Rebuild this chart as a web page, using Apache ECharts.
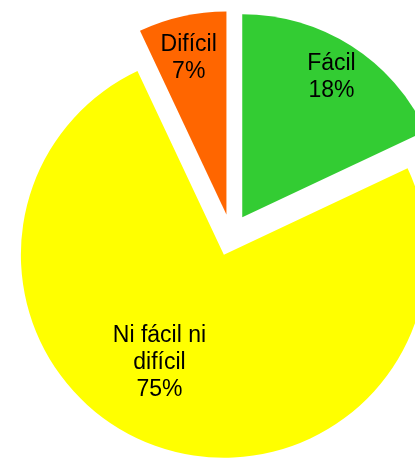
<!DOCTYPE html>
<html>
<head>
<meta charset="utf-8">
<style>
  html, body { margin: 0; padding: 0; background: #fff; }
  #chart { width: 415px; height: 458px; }
</style>
<script src="https://cdn.jsdelivr.net/npm/echarts@6/dist/echarts.min.js"></script>
</head>
<body>
<div id="chart"></div>
<script>
// datos del gráfico
const categories = ['Fácil', 'Ni fácil ni\ndifícil', 'Difícil'];
const values = [18, 75, 7];
const colors = ['#33CC33', '#FFFF00', '#FF6600'];

// geometría del pastel (en píxeles)
const CENTER = [231, 235];
const RADIUS = 203;
const EXPLODE = 21;
// posición de etiquetas: fracción del radio y giro en grados
const labelFrac = [0.82, 0.62, 0.79];
const labelShift = [0, 11, -1];

const total = values.reduce((a, b) => a + b, 0);

function labelPos(i) {
  let start = 0;
  for (let k = 0; k < i; k++) start += values[k] / total * 360;
  const mid = start + values[i] / total * 180;
  const rad = mid * Math.PI / 180;
  const cx = CENTER[0] + EXPLODE * Math.sin(rad);
  const cy = CENTER[1] - EXPLODE * Math.cos(rad);
  const la = (mid + labelShift[i]) * Math.PI / 180;
  return [cx + labelFrac[i] * RADIUS * Math.sin(la), cy - labelFrac[i] * RADIUS * Math.cos(la)];
}

// etiquetas como texto del componente graphic (la etiqueta del pie no deja moverse)
const labels = categories.map((name, i) => {
  const pos = labelPos(i);
  return {
    type: 'text',
    x: pos[0],
    y: pos[1],
    z: 100,
    silent: true,
    style: {
      text: name + '\n' + values[i] + '%',
      fill: '#000',
      fontFamily: '"Liberation Sans", Arial, sans-serif',
      fontSize: 23,
      lineHeight: 27,
      align: 'center',
      verticalAlign: 'middle'
    }
  };
});

const chart = echarts.init(document.getElementById('chart'));
chart.setOption({
  animation: false,
  series: [{
    type: 'pie',
    center: CENTER,
    radius: RADIUS,
    startAngle: 90,
    clockwise: true,
    selectedMode: 'multiple',
    selectedOffset: EXPLODE,
    silent: true,
    label: { show: false },
    labelLine: { show: false },
    data: categories.map((name, i) => ({
      name: name,
      value: values[i],
      selected: true,
      itemStyle: { color: colors[i] }
    }))
  }],
  graphic: { elements: labels }
});
</script>
</body>
</html>
